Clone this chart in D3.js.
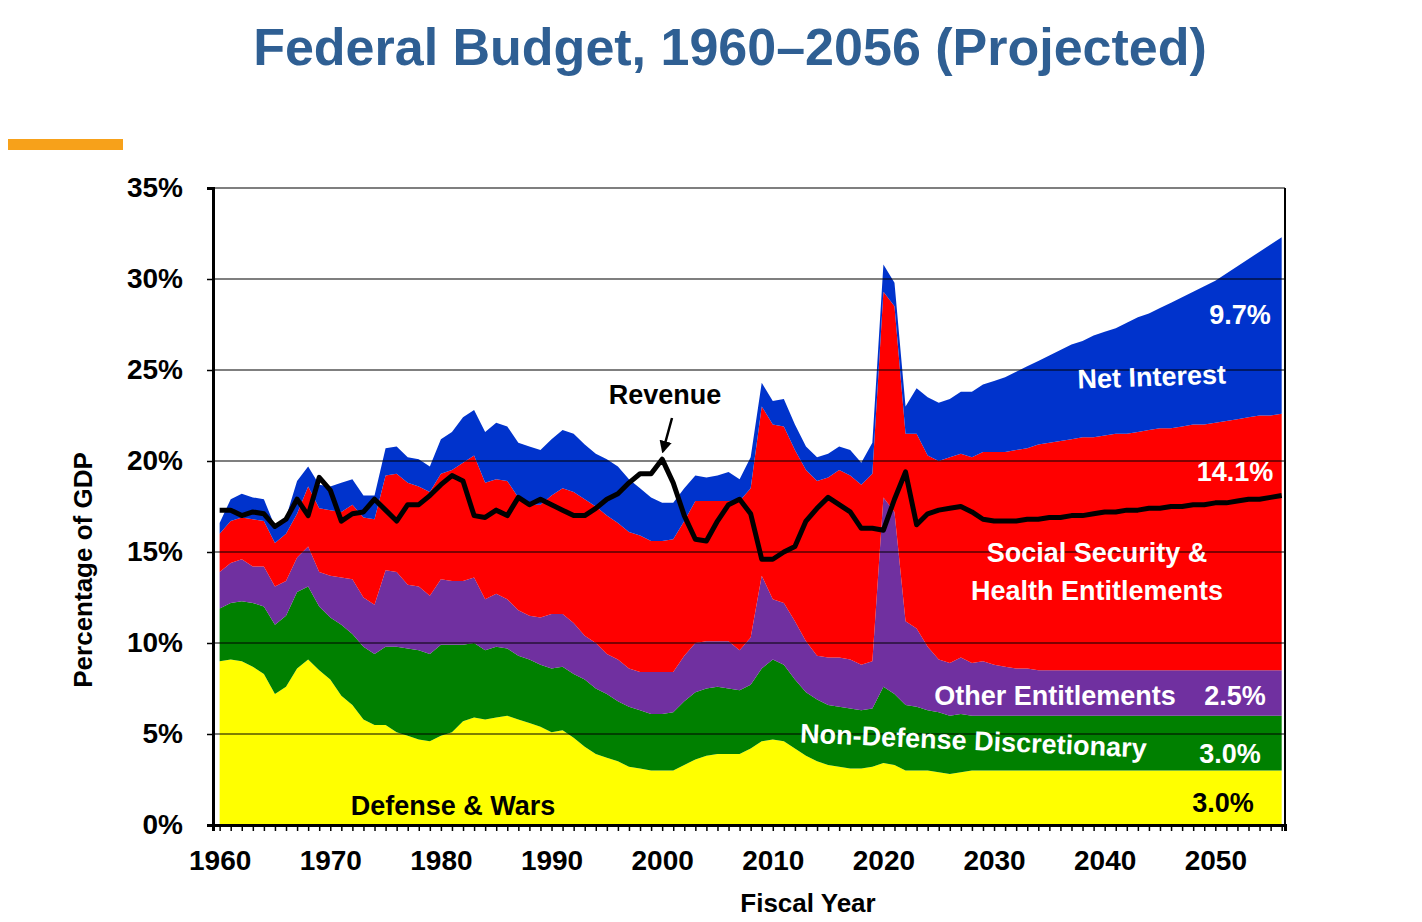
<!DOCTYPE html>
<html><head><meta charset="utf-8">
<script src="https://cdn.jsdelivr.net/npm/d3@7"></script>
<style>body{margin:0;background:#fff;font-family:Arial,"Liberation Sans",sans-serif}</style>
</head><body><svg id="chart" width="1422" height="922"></svg>
<script>
// fiscal years 1960..2056
const years = d3.range(1960, 2057)
// % of GDP
const defense = [9.0,9.1,9.0,8.7,8.3,7.2,7.6,8.6,9.1,8.5,8.0,7.1,6.6,5.8,5.5,5.5,5.1,4.9,4.7,4.6,
  4.9,5.1,5.7,5.9,5.8,5.9,6.0,5.8,5.6,5.4,5.1,5.2,4.8,4.3,3.9,3.7,3.5,3.2,3.1,3.0,
  3.0,3.0,3.3,3.6,3.8,3.9,3.9,3.9,4.2,4.6,4.7,4.6,4.2,3.8,3.5,3.3,3.2,3.1,3.1,3.2,
  3.4,3.3,3.0,3.0,3.0,2.9,2.8,2.9,3.0,3.0,3.0,3.0,3.0,3.0,3.0,3.0,3.0,3.0,3.0,3.0,
  3.0,3.0,3.0,3.0,3.0,3.0,3.0,3.0,3.0,3.0,3.0,3.0,3.0,3.0,3.0,3.0,3.0]
const nonDefense = [2.9,3.1,3.3,3.5,3.7,3.8,3.9,4.2,4.0,3.5,3.4,3.9,3.9,4.0,3.9,4.3,4.7,4.8,4.9,4.8,
  5.0,4.8,4.2,4.1,3.8,3.9,3.7,3.5,3.5,3.4,3.5,3.5,3.5,3.7,3.6,3.5,3.3,3.3,3.2,3.1,
  3.1,3.2,3.5,3.7,3.7,3.7,3.6,3.5,3.5,4.0,4.4,4.2,3.8,3.5,3.4,3.3,3.3,3.3,3.2,3.2,
  4.2,3.9,3.6,3.5,3.3,3.3,3.2,3.2,3.0,3.0,3.0,3.0,3.0,3.0,3.0,3.0,3.0,3.0,3.0,3.0,
  3.0,3.0,3.0,3.0,3.0,3.0,3.0,3.0,3.0,3.0,3.0,3.0,3.0,3.0,3.0,3.0,3.0]
const otherEnt = [2.0,2.2,2.3,2.0,2.2,2.1,1.9,1.9,2.2,1.9,2.3,2.6,3.0,2.7,2.7,4.2,4.1,3.5,3.5,3.2,
  3.6,3.5,3.5,3.6,2.8,2.9,2.7,2.5,2.4,2.6,3.0,2.9,2.8,2.4,2.5,2.2,2.3,2.1,2.1,2.3,
  2.3,2.2,2.5,2.7,2.6,2.5,2.6,2.2,2.6,5.1,3.3,3.4,3.2,2.8,2.4,2.6,2.7,2.7,2.5,2.6,
  10.4,10.0,4.6,4.3,3.5,2.9,2.9,3.1,2.9,3.0,2.8,2.7,2.6,2.6,2.5,2.5,2.5,2.5,2.5,2.5,
  2.5,2.5,2.5,2.5,2.5,2.5,2.5,2.5,2.5,2.5,2.5,2.5,2.5,2.5,2.5,2.5,2.5]
const ssHealth = [2.1,2.3,2.3,2.6,2.5,2.4,2.6,2.4,3.3,3.5,3.6,3.6,4.1,4.4,4.7,5.2,5.4,5.6,5.5,5.7,
  5.8,6.1,6.5,6.7,6.4,6.3,6.5,6.2,6.1,6.2,6.5,6.9,7.2,7.5,7.5,7.6,7.5,7.5,7.5,7.2,
  7.2,7.3,7.4,7.8,7.7,7.7,7.7,8.2,8.2,9.3,9.6,9.7,9.4,9.4,9.6,9.9,10.3,10.1,9.9,10.3,
  11.3,11.3,10.3,10.7,10.5,10.9,11.3,11.2,11.3,11.5,11.7,11.8,12.0,12.1,12.4,12.5,12.6,12.7,12.8,12.8,
  12.9,13.0,13.0,13.1,13.2,13.3,13.3,13.4,13.5,13.5,13.6,13.7,13.8,13.9,14.0,14.0,14.1]
const netInterest = [0.6,1.2,1.3,1.2,1.2,0.9,0.9,1.8,1.1,1.3,1.3,1.6,1.4,1.2,1.3,1.5,1.5,1.4,1.5,1.4,
  1.9,2.1,2.5,2.5,2.8,3.1,3.0,3.0,3.2,3.0,3.1,3.2,3.2,3.0,2.9,3.1,3.1,2.9,2.6,2.4,
  2.1,2.0,1.8,1.4,1.3,1.4,1.6,1.2,1.7,1.3,1.3,1.5,1.4,1.3,1.3,1.3,1.3,1.4,1.2,1.7,
  1.5,1.3,1.5,2.5,3.2,3.2,3.2,3.4,3.6,3.7,3.9,4.1,4.3,4.5,4.6,4.8,5.0,5.2,5.3,5.6,
  5.7,5.8,6.1,6.3,6.4,6.6,6.9,7.1,7.3,7.6,7.8,8.1,8.4,8.7,9.0,9.4,9.7]
const revenue = [17.3,17.3,17.0,17.2,17.1,16.4,16.8,17.9,17.0,19.1,18.4,16.7,17.1,17.2,17.9,17.3,16.7,17.6,17.6,18.1,
  18.7,19.2,18.9,17.0,16.9,17.3,17.0,18.0,17.6,17.9,17.6,17.3,17.0,17.0,17.4,17.9,18.2,18.8,19.3,19.3,
  20.1,18.8,17.0,15.7,15.6,16.7,17.6,17.9,17.1,14.6,14.6,15.0,15.3,16.7,17.4,18.0,17.6,17.2,16.3,16.3,
  16.2,17.9,19.4,16.5,17.1,17.3,17.4,17.5,17.2,16.8,16.7,16.7,16.7,16.8,16.8,16.9,16.9,17.0,17.0,17.1,
  17.2,17.2,17.3,17.3,17.4,17.4,17.5,17.5,17.6,17.6,17.7,17.7,17.8,17.9,17.9,18.0,18.1]
const seriesKeys = ['defense','nonDefense','otherEnt','ssHealth','netInterest']
const seriesColors = ['#ffff00','#008000','#7030a0','#ff0000','#0033cc']
const yTicks = [0,5,10,15,20,25,30,35]
const xTicks = [1960,1970,1980,1990,2000,2010,2020,2030,2040,2050]

const rows = years.map((y,i) => ({year:y, defense:defense[i], nonDefense:nonDefense[i],
  otherEnt:otherEnt[i], ssHealth:ssHealth[i], netInterest:netInterest[i]}))

const svg = d3.select('#chart')
const margin = {left:213, right:1285, top:188, bottom:825}

const x = d3.scaleLinear().domain([1959.4, 2056.3]).range([margin.left, margin.right])
const y = d3.scaleLinear().domain([0, 35]).range([margin.bottom, margin.top])

svg.append('text').attr('x', 730).attr('y', 65).attr('text-anchor','middle')
  .attr('font-size', 52).attr('font-weight','bold').attr('fill','#2f5f93')
  .text('Federal Budget, 1960\u20132056 (Projected)')
svg.append('rect').attr('x', 8).attr('y', 139).attr('width', 115).attr('height', 11).attr('fill','#f7a11a')

// stacked areas
const stack = d3.stack().keys(seriesKeys)(rows)
const area = d3.area().x(d => x(d.data.year)).y0(d => y(d[0])).y1(d => y(d[1]))
svg.append('g').selectAll('path').data(stack).enter().append('path')
  .attr('d', area).attr('fill', (d,i) => seriesColors[i])

// gridlines
svg.append('g').selectAll('line').data(yTicks.slice(1)).enter().append('line')
  .attr('x1', margin.left).attr('x2', margin.right)
  .attr('y1', d => y(d)).attr('y2', d => y(d)).attr('stroke','#000').attr('stroke-width',1.2)

// revenue line
svg.append('path').datum(revenue)
  .attr('d', d3.line().x((d,i) => x(years[i])).y(d => y(d)))
  .attr('fill','none').attr('stroke','#000').attr('stroke-width',5).attr('stroke-linejoin','round')

// axes
const yAxis = svg.append('g').attr('transform', `translate(${margin.left},0)`)
  .call(d3.axisLeft(y).tickValues(yTicks).tickFormat(d => d + '%').tickSize(6))
yAxis.selectAll('text').attr('font-size', 28).attr('font-weight','bold').attr('x', -30).attr('font-family','Arial')
const xAxis = svg.append('g').attr('transform', `translate(0,${margin.bottom})`)
  .call(d3.axisBottom(x).tickValues(years).tickFormat(d => xTicks.includes(d) ? d : '').tickSize(6))
xAxis.selectAll('text').attr('font-size', 28).attr('font-weight','bold').attr('dy', '1.3em').attr('font-family','Arial')
svg.selectAll('.domain').attr('stroke-width', 3)
svg.selectAll('.tick line').attr('stroke-width', 1.5)
svg.append('line').attr('x1', margin.right).attr('x2', margin.right)
  .attr('y1', margin.top).attr('y2', margin.bottom).attr('stroke','#000').attr('stroke-width',2)

svg.append('text').attr('x', 808).attr('y', 912).attr('text-anchor','middle')
  .attr('font-size', 26).attr('font-weight','bold').text('Fiscal Year')
svg.append('text').attr('transform','translate(92,570) rotate(-90)').attr('text-anchor','middle')
  .attr('font-size', 26).attr('font-weight','bold').text('Percentage of GDP')

// labels
const lab = (t, lx, ly, fill, anchor, rot) => svg.append('text')
  .attr('transform', `translate(${lx},${ly})` + (rot ? ` rotate(${rot})` : ''))
  .attr('text-anchor', anchor || 'middle').attr('font-size', 27).attr('font-weight','bold')
  .attr('fill', fill).text(t)
lab('9.7%', 1240, 324, '#fff')
lab('Net Interest', 1152, 386, '#fff', 'middle', -2)
lab('14.1%', 1235, 481, '#fff')
lab('Social Security &', 1097, 562, '#fff')
lab('Health Entitlements', 1097, 600, '#fff')
lab('Other Entitlements', 1055, 705, '#fff')
lab('2.5%', 1235, 705, '#fff')
lab('Non-Defense Discretionary', 973, 750, '#fff', 'middle', 2.5)
lab('3.0%', 1230, 763, '#fff')
lab('Defense & Wars', 453, 815, '#000')
lab('3.0%', 1223, 812, '#000')
lab('Revenue', 665, 404, '#000')
svg.append('defs').append('marker').attr('id','ah').attr('viewBox','0 0 10 10').attr('refX',8).attr('refY',5)
  .attr('markerWidth',5).attr('markerHeight',5).attr('orient','auto')
  .append('path').attr('d','M0,0L10,5L0,10z').attr('fill','#000')
svg.append('line').attr('x1', 672).attr('y1', 418).attr('x2', 663).attr('y2', 451)
  .attr('stroke','#000').attr('stroke-width',2.5).attr('marker-end','url(#ah)')
</script></body></html>
